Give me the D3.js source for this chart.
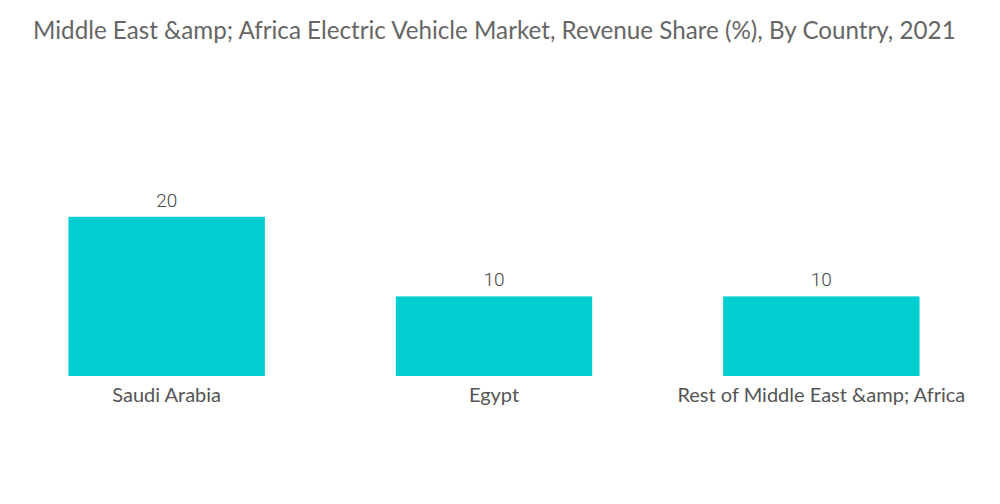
<!DOCTYPE html>
<html>
<head>
<meta charset="utf-8">
<script src="https://cdn.jsdelivr.net/npm/d3@7"></script>
<style>
  body { margin: 0; background: #fff; }
  svg { display: block; }
</style>
</head>
<body>
<div id="chart"></div>
<script>
/* Data */
const countries = ['Saudi Arabia', 'Egypt', 'Rest of Middle East &amp; Africa'];
const shares = [20, 10, 10];
const title = 'Middle East &amp; Africa Electric Vehicle Market, Revenue Share (%), By Country, 2021';

const width = 1000,
  height = 504,
  baseline = 376;

const svg = d3
  .select('#chart')
  .append('svg')
  .attr('width', width)
  .attr('height', height);

// Title
svg
  .append('text')
  .attr('x', 33)
  .attr('y', 39)
  .attr('fill', '#666')
  .style('font-family', 'Lato, sans-serif')
  .style('font-size', '24.2px')
  .text(title);

// Scales
const x = d3
  .scaleBand()
  .domain(countries)
  .range([3, 985])
  .paddingInner(0.4)
  .paddingOuter(0.2);

const y = d3.scaleLinear().domain([0, 25]).range([baseline, baseline - 199]);

const data = countries.map((c, i) => ({ country: c, value: shares[i] }));

// Bars
svg
  .selectAll('rect.bar')
  .data(data)
  .join('rect')
  .attr('class', 'bar')
  .attr('x', (d) => x(d.country))
  .attr('y', (d) => y(d.value))
  .attr('width', x.bandwidth())
  .attr('height', (d) => y(0) - y(d.value))
  .attr('fill', '#00CED1');

// Value labels
svg
  .selectAll('text.value')
  .data(data)
  .join('text')
  .attr('class', 'value')
  .attr('x', (d) => x(d.country) + x.bandwidth() / 2)
  .attr('y', (d) => y(d.value) - 10)
  .attr('text-anchor', 'middle')
  .attr('fill', '#444')
  .style('font-family', 'Roboto, sans-serif')
  .style('font-weight', 300)
  .style('font-size', '19px')
  .text((d) => d.value);

// Category axis labels
const xAxis = svg
  .append('g')
  .attr('transform', `translate(0, ${baseline})`)
  .call(d3.axisBottom(x).tickSize(0).tickPadding(12));

xAxis.select('.domain').remove();
xAxis
  .selectAll('text')
  .attr('fill', '#555')
  .style('font-family', 'Lato, sans-serif')
  .style('font-size', '20px');
</script>
</body>
</html>
